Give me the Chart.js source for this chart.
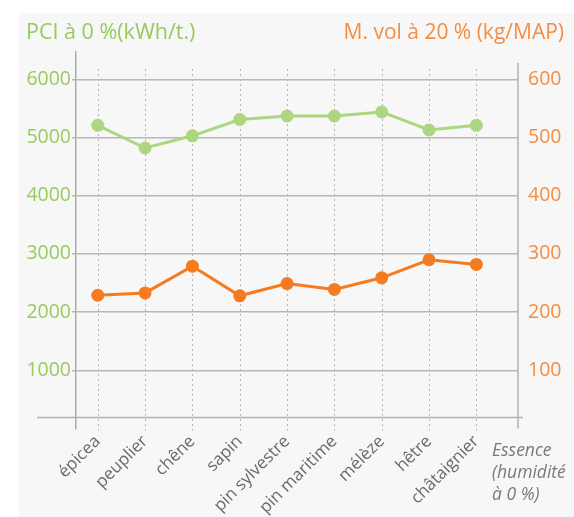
<!DOCTYPE html>
<html lang="fr">
<head>
  <meta charset="UTF-8" />
  <title>PCI et masse volumique par essence</title>
  <script src="https://cdn.jsdelivr.net/npm/chart.js"></script>
  <style>
    html, body { margin: 0; padding: 0; background: #fff; }
    #wrap { width: 574px; height: 517px; position: relative; }
    canvas { display: block; }
  </style>
</head>
<body>
  <div id="wrap"><canvas id="chart" width="574" height="517"></canvas></div>

  <script>
    // données
    const essences = ['épicea', 'peuplier', 'chêne', 'sapin', 'pin sylvestre', 'pin maritime', 'mélèze', 'hêtre', 'châtaignier'];
    const pci = [5210, 4820, 5030, 5310, 5370, 5370, 5440, 5130, 5210];      // kWh/t à 0 %
    const masseVol = [229, 233, 279, 228, 249, 239, 259, 290, 282];          // kg/MAP à 20 %
    const pciTicks = [1000, 2000, 3000, 4000, 5000, 6000];
    const volTicks = [100, 200, 300, 400, 500, 600];

    const FONT = "'Open Sans', sans-serif";
    const GREEN = '#add681';
    const GREEN_TXT = '#98ca5e';
    const ORANGE = '#f47b20';
    const ORANGE_TXT = '#f58d42';

    const decor = {
      id: 'decor',
      beforeDraw(chart) {
        const ctx = chart.ctx;
        const { right, top, bottom } = chart.chartArea;
        const x = chart.scales.x;
        ctx.save();
        ctx.fillStyle = '#f7f7f7';
        ctx.fillRect(19, 13, chart.width - 19, chart.height - 13);

        // pointillés verticaux par essence
        ctx.strokeStyle = '#b5b5b5';
        ctx.lineWidth = 1;
        ctx.setLineDash([2, 3]);
        essences.forEach((e, i) => {
          const px = Math.round(x.getPixelForValue(i)) + 0.5;
          ctx.beginPath();
          ctx.moveTo(px, top + 17);
          ctx.lineTo(px, bottom + 2);
          ctx.stroke();
        });
        ctx.setLineDash([]);

        // ligne de base décorative
        ctx.strokeStyle = '#b0b0b0';
        ctx.lineWidth = 1.5;
        ctx.beginPath();
        ctx.moveTo(37, bottom - 11);
        ctx.lineTo(right + 5, bottom - 11);
        ctx.stroke();

        // axe droit
        ctx.beginPath();
        ctx.moveTo(right, top + 11);
        ctx.lineTo(right, bottom);
        ctx.stroke();
        ctx.restore();
      },
      afterDraw(chart) {
        const ctx = chart.ctx;
        ctx.save();
        ctx.textBaseline = 'alphabetic';
        ctx.font = '21.5px ' + FONT;
        ctx.fillStyle = GREEN_TXT;
        ctx.textAlign = 'left';
        ctx.fillText('PCI à 0 %(kWh/t.)', 26, 39);
        ctx.font = '21px ' + FONT;
        ctx.fillStyle = ORANGE_TXT;
        ctx.textAlign = 'right';
        ctx.fillText('M. vol à 20 % (kg/MAP)', 564, 39);

        ctx.font = 'italic 17.5px ' + FONT;
        ctx.fillStyle = '#7a7a7a';
        ctx.textAlign = 'left';
        ctx.fillText('Essence', 492, 456);
        ctx.fillText('(humidité', 492, 478);
        ctx.fillText('à 0 %)', 492, 500);
        ctx.restore();
      }
    };

    new Chart(document.getElementById('chart'), {
      type: 'line',
      data: {
        datasets: [
          {
            label: 'PCI',
            data: pci.map((v, i) => ({ x: i, y: v })),
            yAxisID: 'y',
            borderColor: GREEN,
            backgroundColor: GREEN,
            borderWidth: 3,
            pointRadius: 6.5,
            pointBorderWidth: 0,
            tension: 0
          },
          {
            label: 'M. vol',
            data: masseVol.map((v, i) => ({ x: i, y: v })),
            yAxisID: 'y1',
            borderColor: ORANGE,
            backgroundColor: ORANGE,
            borderWidth: 3,
            pointRadius: 6.5,
            pointBorderWidth: 0,
            tension: 0
          }
        ]
      },
      options: {
        responsive: false,
        animation: false,
        layout: { padding: { top: 52, left: 0, right: 0, bottom: 0 } },
        plugins: { legend: { display: false }, tooltip: { enabled: false } },
        scales: {
          x: {
            type: 'linear',
            min: -0.46,
            max: 8.88,
            afterBuildTicks(s) { s.ticks = essences.map((e, i) => ({ value: i })); },
            afterFit(s) { s.height = 88.5; },
            grid: { display: false, drawTicks: false },
            border: { display: false },
            ticks: {
              autoSkip: false,
              minRotation: 45,
              maxRotation: 45,
              padding: 3,
              color: '#6a6a6a',
              font: { family: FONT, size: 17 },
              callback: v => essences[v]
            }
          },
          y: {
            position: 'left',
            min: 0,
            max: 6470,
            afterBuildTicks(s) { s.ticks = pciTicks.map(v => ({ value: v })); },
            afterFit(s) { s.width = 76; },
            grid: { color: '#b8b8b8', lineWidth: 1.5, tickLength: 4 },
            border: { color: '#ababab', width: 1.5 },
            ticks: { padding: 1, color: GREEN_TXT, font: { family: FONT, size: 19.5 }, callback: v => String(v) }
          },
          y1: {
            position: 'right',
            min: 0,
            max: 647,
            afterBuildTicks(s) { s.ticks = volTicks.map(v => ({ value: v })); },
            afterFit(s) { s.width = 56; },
            grid: { display: false, drawTicks: false },
            border: { display: false },
            ticks: { padding: 10, color: ORANGE_TXT, font: { family: FONT, size: 19.5 }, callback: v => String(v) }
          }
        }
      },
      plugins: [decor]
    });
  </script>
</body>
</html>
